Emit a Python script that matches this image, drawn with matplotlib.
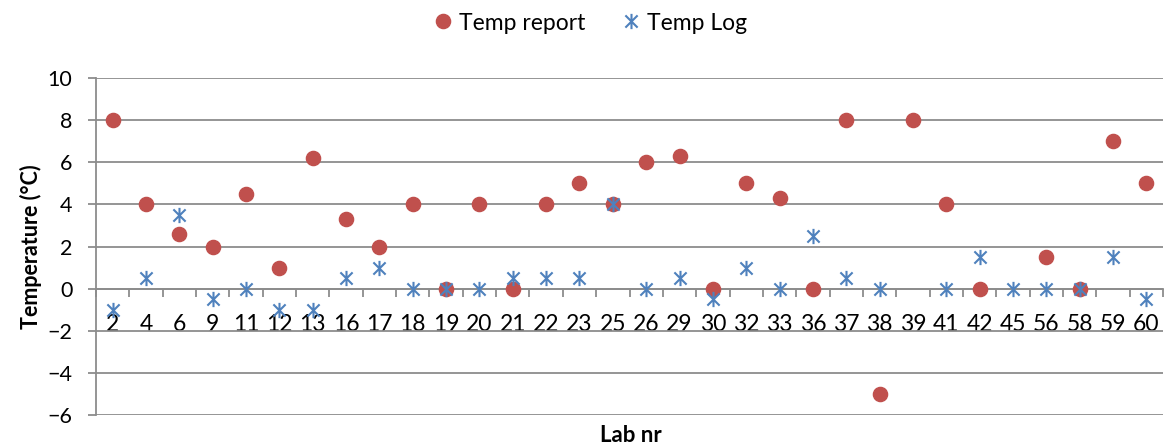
import numpy as np
import matplotlib

matplotlib.use("Agg")
import matplotlib.pyplot as plt
from matplotlib.path import Path

plt.rcParams["font.family"] = ["Lato", "DejaVu Sans"]

LAB_NR = ["2", "4", "6", "9", "11", "12", "13", "16", "17", "18", "19", "20",
          "21", "22", "23", "25", "26", "29", "30", "32", "33", "36", "37", "38",
          "39", "41", "42", "45", "56", "58", "59", "60"]
TEMP_REPORT = [8, 4, 2.6, 2, 4.5, 1, 6.2, 3.3, 2, 4, 0, 4,
               0, 4, 5, 4, 6, 6.3, 0, 5, 4.3, 0, 8, -5,
               8, 4, 0, np.nan, 1.5, 0, 7, 5]
TEMP_LOG = [-1, 0.5, 3.5, -0.5, 0, -1, -1, 0.5, 1, 0, 0, 0,
            0.5, 0.5, 0.5, 4, 0, 0.5, -0.5, 1, 0, 2.5, 0.5, 0,
            np.nan, 0, 1.5, 0, 0, 0, 1.5, -0.5]

RED, BLUE, GREY = "#C0504D", "#4F81BD", "#8C8C8C"

# Excel style "X with a vertical bar" marker
STAR = Path([(0, -1), (0, 1), (-0.8, -0.8), (0.8, 0.8), (-0.8, 0.8), (0.8, -0.8)],
            [Path.MOVETO, Path.LINETO] * 3)

fig = plt.figure(figsize=(11.68, 4.44), dpi=100)
ax = fig.add_axes([96 / 1168, 1 - 415 / 444, 1067 / 1168, 337 / 444])

x = np.arange(len(LAB_NR))
ax.plot(x, TEMP_REPORT, ls="none", marker="o", ms=10.2, color=RED,
        mec=RED, label="Temp report", zorder=3)
ax.plot(x, TEMP_LOG, ls="none", marker=STAR, ms=11, mew=1.5,
        color=BLUE, label="Temp Log", zorder=4)

ax.set_xlim(-0.5, len(LAB_NR) - 0.5)
ax.set_ylim(-6, 10)
ax.set_yticks(range(-6, 11, 2))
ax.yaxis.grid(True, color=GREY, lw=1.3)
ax.set_axisbelow(True)

# x axis sits on y=0, ticks between categories, labels under it
ax.spines["bottom"].set_position(("data", 0))
for s in ("top", "right"):
    ax.spines[s].set_visible(False)
for s in ("bottom", "left"):
    ax.spines[s].set_color(GREY)
    ax.spines[s].set_linewidth(1.3)

ax.set_xticks(x)
ax.set_xticklabels(LAB_NR)
ax.set_xticks(np.arange(-0.5, len(LAB_NR), 1.0), minor=True)
ax.tick_params(axis="x", which="major", length=0, pad=18, labelsize=16.5)
ax.tick_params(axis="x", which="minor", length=6, direction="out",
               color=GREY, width=1.3)
ax.tick_params(axis="y", length=6, color=GREY, width=1.3, labelsize=15.5, pad=11)

ax.set_ylabel("Temperature (°C)", fontsize=15.5, fontweight="bold", labelpad=4)
fig.text(631 / 1168, 1 - 435 / 444, "Lab nr", ha="center", va="center",
         fontsize=16, fontweight="bold")

fig.legend(loc="center", bbox_to_anchor=(588 / 1168, 1 - 23 / 444), ncol=2,
           frameon=False, fontsize=16.5, handletextpad=0.1, columnspacing=1.4,
           handlelength=1.2)

fig.savefig("out.png", dpi=100)
